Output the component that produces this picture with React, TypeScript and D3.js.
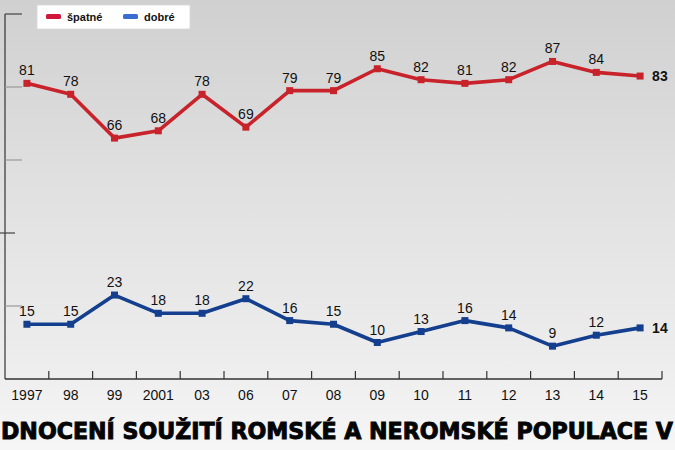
import { useRef, useEffect } from 'react';
import * as d3 from 'd3';

const YEARS = ['1997', '98', '99', '2001', '03', '06', '07', '08', '09', '10', '11', '12', '13', '14', '15'];
const BAD = [81, 78, 66, 68, 78, 69, 79, 79, 85, 82, 81, 82, 87, 84, 83];
const GOOD = [15, 15, 23, 18, 18, 22, 16, 15, 10, 13, 16, 14, 9, 12, 14];
const Y_TICKS = [20, 40, 60, 80, 100];
const SERIES_NAMES = ['špatné', 'dobré'];
const TITLE = 'DNOCENÍ SOUŽITÍ ROMSKÉ A NEROMSKÉ POPULACE V';

const WIDTH = 675;
const HEIGHT = 450;
const PLOT = { left: 5, right: 662, top: 14, bottom: 379 };
const RED = '#c8222b';
const BLUE = '#143f8e';
const FONT = '"Liberation Sans", Arial, sans-serif';

export default function App() {
  const svgRef = useRef<SVGSVGElement>(null);

  useEffect(() => {
    if (!svgRef.current) return;
    document.body.style.margin = '0';
    const svg = d3.select(svgRef.current);
    svg.selectAll('*').remove();
    svg.attr('width', WIDTH).attr('height', HEIGHT);

    // background, a grey wash in place of the crowd photo
    const defs = svg.append('defs');
    const grad = defs.append('linearGradient').attr('id', 'bg').attr('x1', 0).attr('y1', 0).attr('x2', 0).attr('y2', 1);
    grad.append('stop').attr('offset', '0%').attr('stop-color', '#d0d0d0');
    grad.append('stop').attr('offset', '40%').attr('stop-color', '#e0e0e0');
    grad.append('stop').attr('offset', '80%').attr('stop-color', '#ededed');
    grad.append('stop').attr('offset', '100%').attr('stop-color', '#f6f6f6');
    svg.append('rect').attr('width', WIDTH).attr('height', HEIGHT).attr('fill', 'url(#bg)');

    const x = d3.scaleBand<string>().domain(YEARS).range([PLOT.left, PLOT.right]);
    const y = d3.scaleLinear().domain([0, 100]).range([PLOT.bottom, PLOT.top]);
    const cx = (d: string) => (x(d) ?? 0) + x.bandwidth() / 2;

    // left axis
    svg.append('line')
      .attr('x1', PLOT.left).attr('x2', PLOT.left)
      .attr('y1', PLOT.top).attr('y2', PLOT.bottom)
      .attr('stroke', '#333').attr('stroke-width', 1.2);
    svg.selectAll('line.ytick').data(Y_TICKS).enter().append('line')
      .attr('class', 'ytick')
      .attr('x1', d => (d === 40 ? 0 : PLOT.left))
      .attr('x2', d => (d === 40 ? 15 : 22))
      .attr('y1', d => y(d)).attr('y2', d => y(d))
      .attr('stroke', d => (d === 100 || d === 40 ? '#444' : '#999'))
      .attr('stroke-width', 1.2);

    // bottom axis
    svg.append('line')
      .attr('x1', PLOT.left).attr('x2', PLOT.right)
      .attr('y1', PLOT.bottom).attr('y2', PLOT.bottom)
      .attr('stroke', '#333').attr('stroke-width', 1.4);
    svg.selectAll('line.xtick').data(YEARS.slice(1).concat(['end'])).enter().append('line')
      .attr('class', 'xtick')
      .attr('x1', d => (d === 'end' ? PLOT.right : x(d) ?? 0))
      .attr('x2', d => (d === 'end' ? PLOT.right : x(d) ?? 0))
      .attr('y1', PLOT.bottom).attr('y2', PLOT.bottom - 8)
      .attr('stroke', '#333').attr('stroke-width', 1.2);
    svg.selectAll('text.xlabel').data(YEARS).enter().append('text')
      .attr('class', 'xlabel')
      .attr('x', d => cx(d)).attr('y', 400)
      .attr('text-anchor', 'middle')
      .attr('font-family', FONT)
      .attr('font-size', 14).attr('fill', '#111')
      .text(d => d);

    // series
    const series = [
      { values: BAD, color: RED },
      { values: GOOD, color: BLUE },
    ];
    series.forEach(s => {
      const pts = YEARS.map((yr, i) => ({ yr, v: s.values[i], last: i === YEARS.length - 1 }));
      const line = d3.line<{ yr: string; v: number }>().x(d => cx(d.yr)).y(d => y(d.v));
      svg.append('path').datum(pts)
        .attr('d', line)
        .attr('fill', 'none').attr('stroke', s.color)
        .attr('stroke-width', 3.6).attr('stroke-linejoin', 'round');
      const g = svg.append('g');
      g.selectAll('rect').data(pts).enter().append('rect')
        .attr('x', d => cx(d.yr) - 3.5).attr('y', d => y(d.v) - 3.5)
        .attr('width', 7).attr('height', 7)
        .attr('fill', s.color);
      g.selectAll('text').data(pts).enter().append('text')
        .attr('x', d => (d.last ? cx(d.yr) + 12 : cx(d.yr)))
        .attr('y', d => (d.last ? y(d.v) + 5 : y(d.v) - 8))
        .attr('text-anchor', d => (d.last ? 'start' : 'middle'))
        .attr('font-family', FONT)
        .attr('font-size', 14)
        .attr('font-weight', d => (d.last ? 700 : 400))
        .attr('fill', '#111')
        .text(d => d.v);
    });

    // legend
    const legend = svg.append('g');
    legend.append('rect')
      .attr('x', 37).attr('y', 5).attr('width', 153).attr('height', 24)
      .attr('fill', '#fff').attr('stroke', '#d8d8d8').attr('stroke-width', 0.8);
    const legendItems = [
      { name: SERIES_NAMES[0], color: '#d0173a', x: 46 },
      { name: SERIES_NAMES[1], color: '#3a6dd0', x: 123 },
    ];
    legendItems.forEach(it => {
      legend.append('rect')
        .attr('x', it.x).attr('y', 14).attr('width', 15).attr('height', 5).attr('rx', 1.5)
        .attr('fill', it.color);
      legend.append('text')
        .attr('x', it.x + 21).attr('y', 21)
        .attr('font-family', FONT)
        .attr('font-size', 11).attr('font-weight', 700).attr('fill', '#111')
        .text(it.name);
    });

    // title strip at the bottom
    svg.append('text')
      .attr('x', 1).attr('y', 439)
      .attr('textLength', 672).attr('lengthAdjust', 'spacingAndGlyphs')
      .attr('font-family', '"DejaVu Sans Condensed", "DejaVu Sans", sans-serif')
      .attr('font-stretch', 'condensed')
      .attr('font-size', 23).attr('font-weight', 700).attr('fill', '#050505')
      .attr('stroke', '#050505').attr('stroke-width', 0.9)
      .text(TITLE);
  }, []);

  return (
    <div style={{ position: 'absolute', left: 0, top: 0, width: WIDTH, height: HEIGHT }}>
      <svg ref={svgRef} />
    </div>
  );
}
